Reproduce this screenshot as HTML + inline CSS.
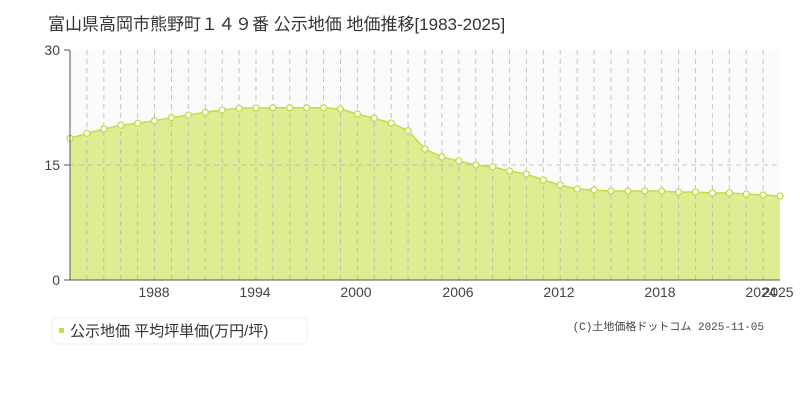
<!DOCTYPE html>
<html><head><meta charset="utf-8"><style>
body{margin:0;background:#fff;width:800px;height:400px;overflow:hidden;font-family:"Liberation Sans","Noto Sans CJK JP",sans-serif}
</style></head><body>
<svg width="800" height="400" xmlns="http://www.w3.org/2000/svg" font-family="Liberation Sans, Noto Sans CJK JP, sans-serif">
<text x="48" y="30" font-size="17" fill="#333">富山県高岡市熊野町１４９番 公示地価 地価推移[1983-2025]</text>
<rect x="70" y="50" width="710" height="230" fill="#fcfbfc"/>
<path id="area" fill="#dced92" stroke="none"/>
<g id="grid" stroke="#b8b8b8" stroke-dasharray="5,4" stroke-width="1" opacity="0.8"></g>
<line x1="70" y1="165" x2="780" y2="165" stroke="#b8b8b8" stroke-dasharray="5,4" opacity="0.8"/>
<polyline id="line" fill="none" stroke="#c3dd4a" stroke-width="1.5"/>
<g id="dots" fill="#fff" stroke="#c3dd4a" stroke-width="1.3"></g>
<line x1="70" y1="50" x2="70" y2="280" stroke="#555"/>
<line x1="70" y1="280" x2="780" y2="280" stroke="#555"/>
<line x1="64" y1="50" x2="70" y2="50" stroke="#555"/>
<line x1="64" y1="165" x2="70" y2="165" stroke="#555"/>
<line x1="64" y1="280" x2="70" y2="280" stroke="#555"/>
<g font-size="14" fill="#444" text-anchor="end">
<text x="60" y="55">30</text><text x="60" y="170">15</text><text x="60" y="285">0</text></g>
<g font-size="14" fill="#444" text-anchor="middle">
<text x="154" y="297">1988</text><text x="255" y="297">1994</text><text x="356" y="297">2000</text><text x="458" y="297">2006</text><text x="559" y="297">2012</text><text x="660" y="297">2018</text><text x="761" y="297">2024</text><text x="778" y="297">2025</text></g>
<rect x="52" y="318" width="255" height="26" rx="4" fill="#fff" stroke="#eee"/>
<rect x="59" y="328" width="5" height="5" fill="#c3dd4a"/>
<text x="70" y="336" font-size="15" fill="#333">公示地価 平均坪単価(万円/坪)</text>
<text x="764" y="330" font-size="11" fill="#444" text-anchor="end" font-family="Liberation Mono, Noto Sans CJK JP, monospace">(C)土地価格ドットコム 2025-11-05</text>
</svg>
<script>
var ys=[138.3,133.3,129,125.3,123.3,120.7,117.7,115,112.3,110,108.3,108,107.7,107.7,107.7,107.7,109,114,118.3,123,130.7,149,157,161,165,167,171,174,180,185,189,190,191,191,191,191,192,192,193,193,194,195,196];
var sx=710/42,pts=[],g=document.getElementById('grid'),d=document.getElementById('dots'),ns="http://www.w3.org/2000/svg";
ys.forEach(function(y,i){var x=70+i*sx;pts.push(x.toFixed(1)+","+y);
if(i>0&&i<42){var l=document.createElementNS(ns,'line');l.setAttribute('x1',x);l.setAttribute('x2',x);l.setAttribute('y1',50);l.setAttribute('y2',280);g.appendChild(l);}
var c=document.createElementNS(ns,'circle');c.setAttribute('cx',x);c.setAttribute('cy',y);c.setAttribute('r',3);d.appendChild(c);});
document.getElementById('line').setAttribute('points',pts.join(' '));
document.getElementById('area').setAttribute('d','M70,280 L'+pts.join(' L')+' L780,280 Z');
</script>
</body></html>
